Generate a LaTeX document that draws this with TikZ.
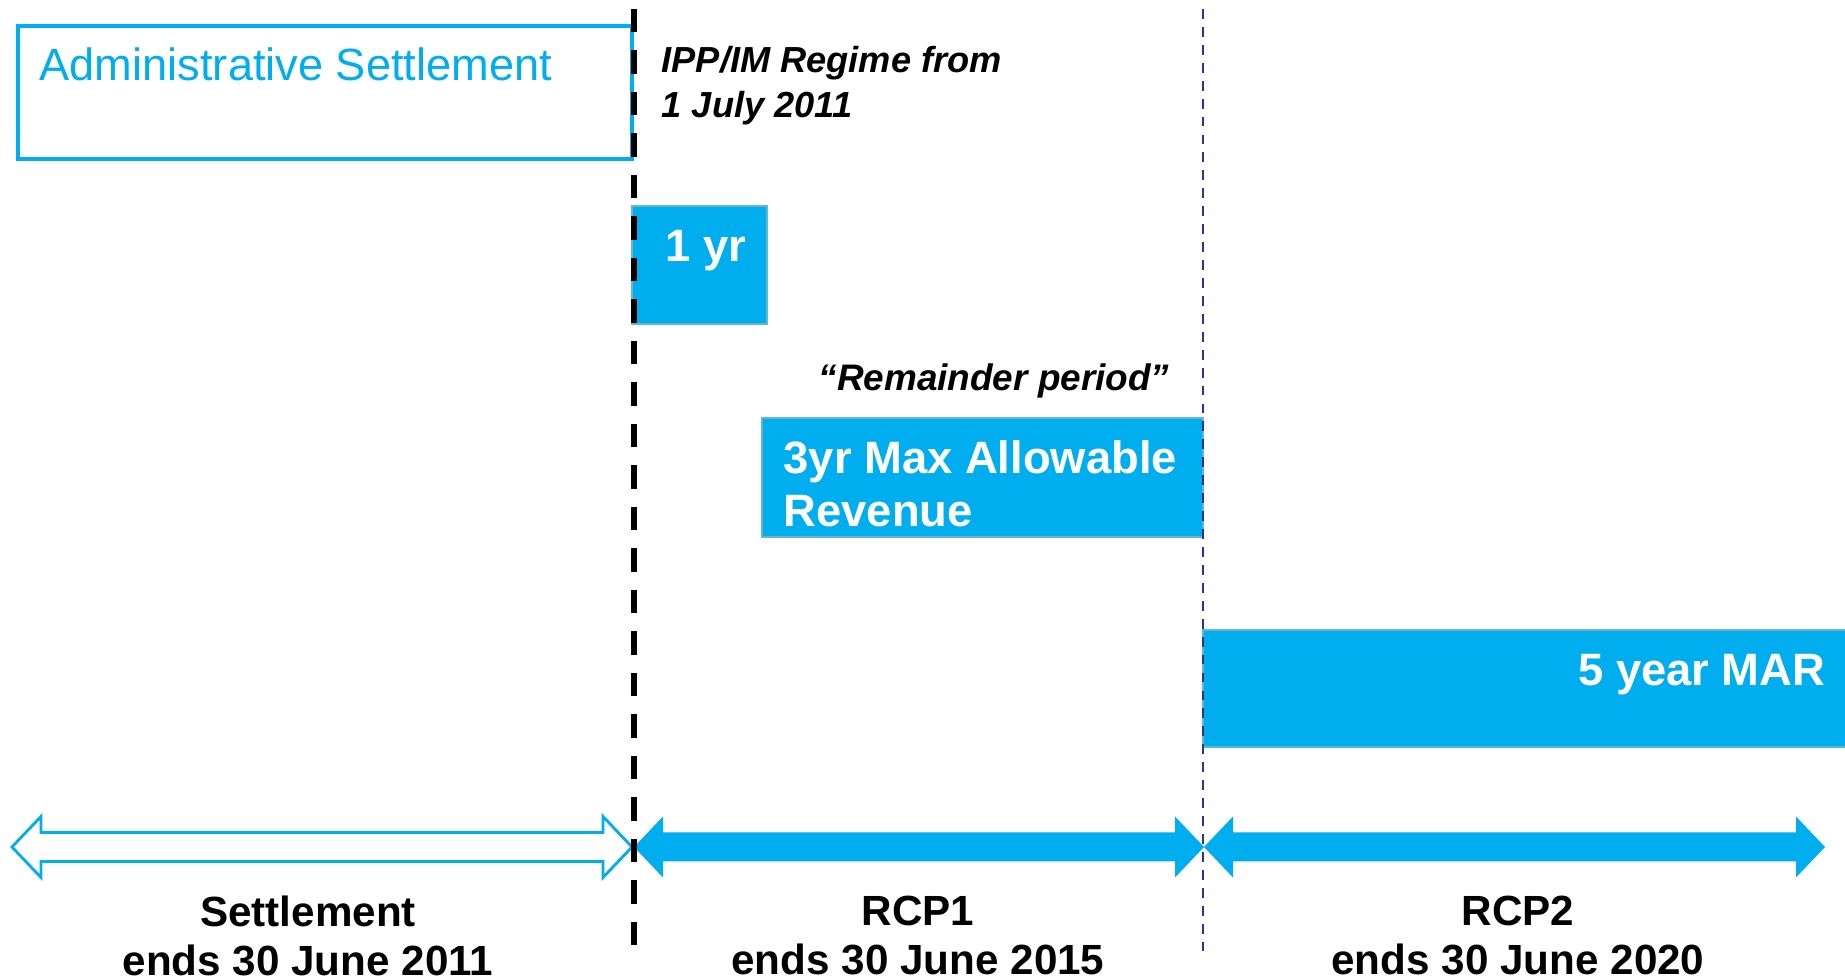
\documentclass[tikz,border=0pt]{standalone}
\usepackage{fontspec}
\setmainfont{Liberation Sans}
\usetikzlibrary{calc}
\definecolor{mar}{RGB}{0,174,239}
\definecolor{marline}{RGB}{95,184,208}
\definecolor{navy}{RGB}{46,49,146}

% double headed period arrow, from x=#2 to x=#3 on the time axis
\newcommand{\periodarrow}[3]{%
  \draw[#1] (#2,847) -- (#2+29,816.5) -- (#2+29,832.5) -- (#3-29,832.5)
    -- (#3-29,816.5) -- (#3,847) -- (#3-29,877.5) -- (#3-29,861.5)
    -- (#2+29,861.5) -- (#2+29,877.5) -- cycle;}

\begin{document}
\begin{tikzpicture}[x=0.01cm,y=-0.01cm,
    box/.style={fill=mar,draw=marline,line width=0.5pt},
    boxtext/.style={white,inner sep=0,font=\fontsize{12.9}{15}\bfseries\selectfont},
    note/.style={inner sep=0,font=\fontsize{10.3}{12.8}\bfseries\itshape\selectfont},
    axislabel/.style={inner sep=0,align=center,font=\fontsize{12}{14}\bfseries\selectfont}]

    \useasboundingbox (0,0) rectangle (1845,980);

%the settlement box
    \draw[mar,line width=1pt] (18,26) rectangle (632,159);
    \node[mar,inner sep=0,anchor=base west,font=\fontsize{12.85}{15}\selectfont] (adm) at (39,81) {Administrative Settlement};

    \node[note,anchor=north west,align=left] (ipp) at (661,46) {IPP/IM Regime from\\1 July 2011};

%the price paths
    \draw[box] (632,206) rectangle (767,324);
    \node[boxtext,anchor=base west] (oneyr) at (665,262) {1 yr};

    \node[note,font=\fontsize{10.5}{12}\bfseries\itshape\selectfont,anchor=base] (rem) at (994,391) {``Remainder period''};

    \draw[box] (762,418) rectangle (1203,537);
    \node[boxtext,anchor=north west,align=left] (threeyr) at (783,440) {3yr Max Allowable\\Revenue};

    \draw[box] (1203,630) rectangle (1850,747);
    \node[boxtext,anchor=base east] (fiveyr) at (1826,686) {5 year MAR};

%the periods
    \periodarrow{mar,line width=0.8pt,fill=white}{12}{632}
    \periodarrow{fill=mar,draw=none}{634}{1204}
    \periodarrow{fill=mar,draw=none}{1204}{1825}

    \node[axislabel,anchor=north] (sett) at (308,895) {Settlement\\ends 30 June 2011};
    \node[axislabel,anchor=north] (rcp1) at (918,895) {RCP1\\ends 30 June 2015};
    \node[axislabel,anchor=north] (rcp2) at (1518,895) {RCP2\\ends 30 June 2020};

%regime boundaries
    \draw[navy,line width=0.6pt,dash pattern=on 2.8pt off 2.3pt] (1203,9) -- (1203,953);
    \draw[black,line width=1.5pt,dash pattern=on 6.6pt off 5.2pt] (634,9) -- (634,953);
\end{tikzpicture}
\end{document}
